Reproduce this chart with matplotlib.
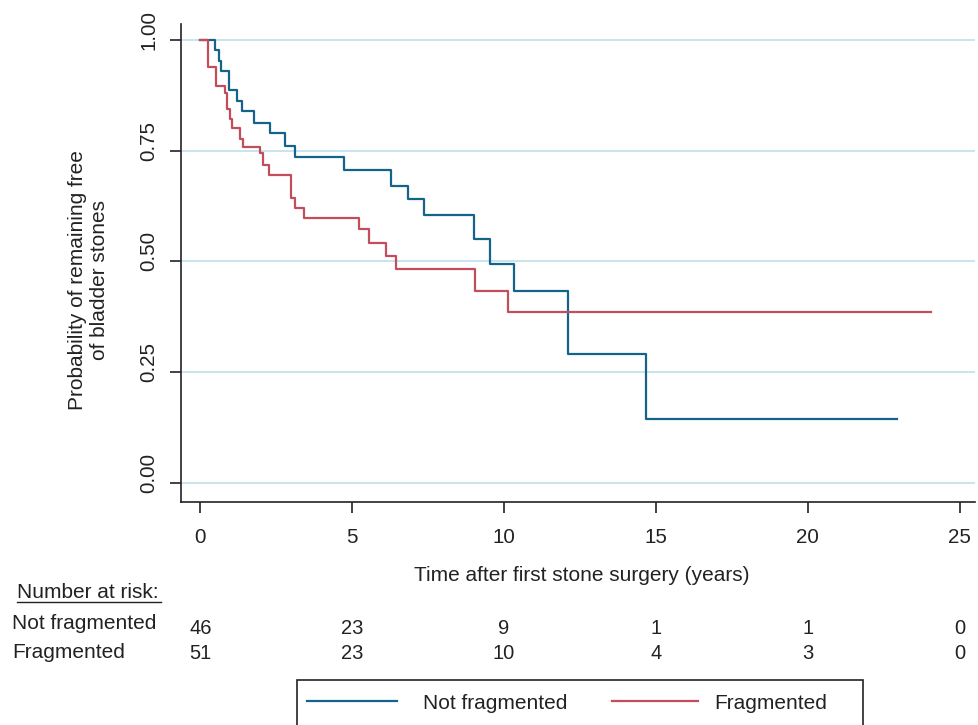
import matplotlib
matplotlib.use("Agg")
import matplotlib.pyplot as plt
import matplotlib.transforms as mtransforms
from matplotlib.lines import Line2D
from matplotlib.patches import Rectangle

# Kaplan-Meier step estimates (time in years, survival probability)
nf_times = [0, 0.49, 0.60, 0.69, 0.95, 1.21, 1.36, 1.77, 2.28, 2.80, 3.13,
            4.72, 6.29, 6.84, 7.35, 9.02, 9.55, 10.33, 12.10, 14.66, 22.94]
nf_surv = [1.0, 0.978, 0.952, 0.929, 0.887, 0.862, 0.839, 0.812, 0.790, 0.760,
           0.736, 0.707, 0.670, 0.640, 0.605, 0.551, 0.494, 0.434, 0.290,
           0.144, 0.144]

fr_times = [0, 0.24, 0.50, 0.80, 0.88, 0.96, 1.05, 1.30, 1.40, 1.95, 2.06,
            2.25, 2.97, 3.13, 3.41, 5.22, 5.56, 6.12, 6.43, 9.03, 10.14, 24.07]
fr_surv = [1.0, 0.939, 0.897, 0.880, 0.845, 0.821, 0.801, 0.776, 0.758, 0.744,
           0.718, 0.696, 0.643, 0.620, 0.598, 0.572, 0.541, 0.512, 0.483,
           0.432, 0.386, 0.386]

risk_times = [0, 5, 10, 15, 20, 25]
nf_risk = [46, 23, 9, 1, 1, 0]
fr_risk = [51, 23, 10, 4, 3, 0]

group_labels = ["Not fragmented", "Fragmented"]
y_ticks = [0.0, 0.25, 0.5, 0.75, 1.0]
x_ticks = [0, 5, 10, 15, 20, 25]

BLUE = "#14648a"
RED = "#c44d5c"
GRID = "#c4e2ea"
INK = "#222222"
FS = 15

plt.rcParams["font.family"] = ["Liberation Sans", "DejaVu Sans"]

W, H = 979, 725
fig = plt.figure(figsize=(W / 100, H / 100), dpi=100)


def fx(px):
    return px / W


def fy(py):
    return 1 - py / H


ax = fig.add_axes([fx(180.7), fy(501.7), fx(974.7) - fx(180.7), fy(24) - fy(501.7)])
ax.set_xlim(-0.65, 25.5)
ax.set_ylim(-0.043, 1.036)

for y in y_ticks:
    ax.axhline(y, color=GRID, lw=1.3, zorder=0)

ax.step(nf_times, nf_surv, where="post", color=BLUE, lw=1.6, zorder=3)
ax.step(fr_times, fr_surv, where="post", color=RED, lw=1.6, zorder=3)

ax.spines["top"].set_visible(False)
ax.spines["right"].set_visible(False)
for s in ("left", "bottom"):
    ax.spines[s].set_linewidth(1.2)
    ax.spines[s].set_color(INK)

ax.set_xticks(x_ticks)
ax.set_xticklabels([str(t) for t in x_ticks])
ax.set_yticks(y_ticks)
ax.set_yticklabels([f"{t:.2f}" for t in y_ticks], rotation=90, va="center")
ax.tick_params(axis="both", length=8, width=1.2, color=INK,
               labelsize=14.8, labelcolor=INK)
ax.tick_params(axis="x", pad=11)
ax.tick_params(axis="y", pad=8)
shift = mtransforms.ScaledTranslation(0, 10 / 100, fig.dpi_scale_trans)
for lab in ax.get_yticklabels():
    lab.set_transform(lab.get_transform() + shift)

fig.text(fx(89), fy(280), "Probability of remaining free\nof bladder stones",
         rotation=90, ha="center", va="center", fontsize=FS, color=INK,
         linespacing=1.2)
fig.text(fx(582), fy(580.7), "Time after first stone surgery (years)",
         ha="center", va="baseline", fontsize=FS, color=INK)

# Number-at-risk table
fig.text(fx(16.7), fy(597.7), "Number at risk:", ha="left", va="baseline",
         fontsize=FS, color=INK)
fig.add_artist(Line2D([fx(16.7), fx(160.7)], [fy(602), fy(602)], color=INK, lw=1.0))

label_base = [629.3, 658.3]
count_base = [634, 659]
blend = mtransforms.blended_transform_factory(ax.transData, fig.transFigure)
for label, counts, lb, cb in zip(group_labels, [nf_risk, fr_risk], label_base, count_base):
    fig.text(fx(12), fy(lb), label, ha="left", va="baseline", fontsize=FS,
             color=INK)
    for t, n in zip(risk_times, counts):
        fig.text(t, fy(cb), str(n), transform=blend, ha="center", va="baseline",
                 fontsize=14.5, color=INK)

# Legend box
fig.add_artist(Rectangle((fx(296.7), fy(760)), fx(863.3) - fx(296.7), fy(680) - fy(760),
                         fill=False, edgecolor=INK, lw=1.2))
ly = fy(701)
fig.add_artist(Line2D([fx(306.7), fx(396.7)], [ly, ly], color=BLUE, lw=1.6))
fig.text(fx(422.7), fy(709.3), group_labels[0], ha="left", va="baseline",
         fontsize=FS, color=INK)
fig.add_artist(Line2D([fx(611.7), fx(698.3)], [ly, ly], color=RED, lw=1.6))
fig.text(fx(714), fy(709.3), group_labels[1], ha="left", va="baseline",
         fontsize=FS, color=INK)

fig.savefig("out.png", dpi=100)
